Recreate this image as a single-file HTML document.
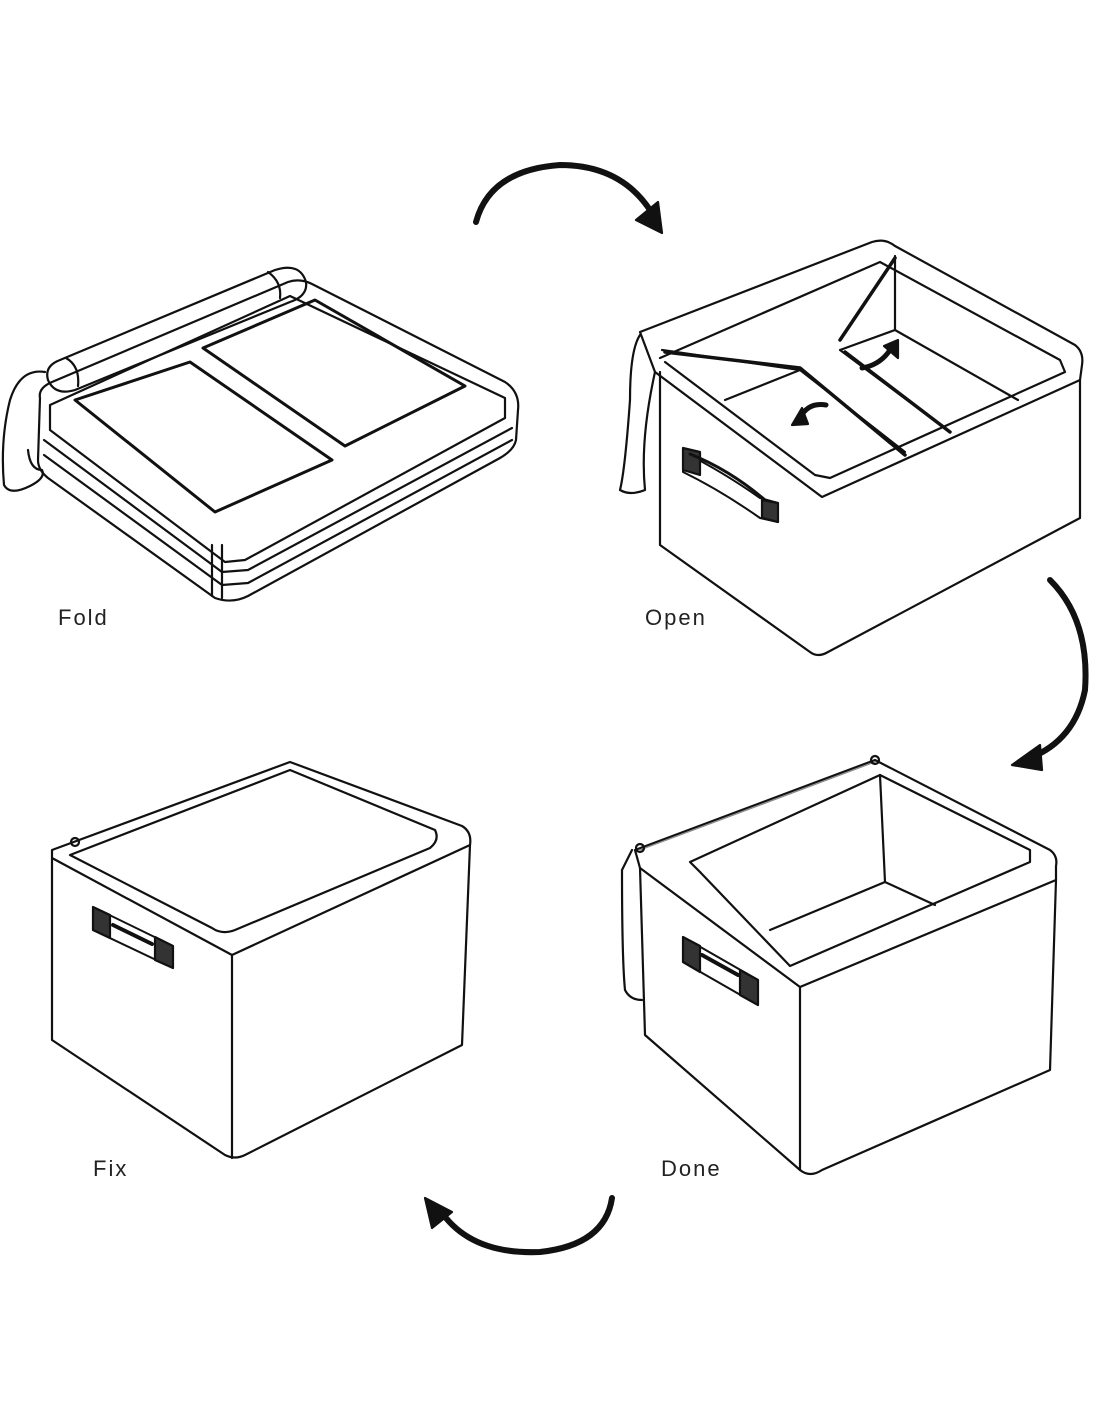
<!DOCTYPE html>
<html><head><meta charset="utf-8"><style>
html,body{margin:0;padding:0;background:#fff;}
svg{display:block}
text{font-family:"Liberation Sans",sans-serif;font-size:22px;letter-spacing:2px;fill:#222}
</style></head><body>
<svg width="1100" height="1422" viewBox="0 0 1100 1422" xmlns="http://www.w3.org/2000/svg">
<g fill="none" stroke="#111" stroke-width="2.2" stroke-linejoin="round" stroke-linecap="round">
<!-- FOLD -->
<path d="M40,398 Q38,388 52,382 L288,282 Q300,278 312,284 L505,382 Q520,392 518,410 L516,440 Q514,450 500,458 L248,596 Q232,604 215,598 L48,478 Q38,470 38,460 Z"/>
<path d="M50,405 L290,296 L505,398 L505,418 L245,560 L225,562 L50,430 Z"/>
<path d="M44,440 L222,572 L248,570 L512,428"/>
<path d="M44,455 L222,585 L248,583 L512,440"/>
<path d="M222,545 L222,598 M212,545 L212,596"/>
<path d="M75,400 L190,362 L332,460 L215,512 Z" stroke-width="3"/>
<path d="M203,348 L315,300 L465,386 L345,446 Z" stroke-width="3"/>
<path d="M60,360 L275,270 Q300,262 306,282 Q308,296 290,302 L75,390 Q55,396 48,380 Q44,366 60,360 Z"/>
<path d="M268,272 Q282,282 280,298"/>
<path d="M66,358 Q80,366 78,386"/>
<path d="M45,372 Q20,368 10,400 Q0,440 4,485 Q10,496 30,486 Q46,478 42,470 Q30,470 28,450"/>
<!-- OPEN -->
<path d="M640,332 L872,242 Q885,238 895,246 L1075,345 Q1084,352 1082,365 L1080,380 L822,497 L655,372 Z"/>
<path d="M660,372 L660,545 L810,652 Q818,658 828,652 L1080,518 L1080,380"/>
<path d="M660,358 L880,262 L1060,360 L1065,372 L830,478 L815,475 L665,362"/>
<path d="M895,256 L895,330 L1018,400"/>
<path d="M662,350 L800,370 L905,452 M725,400 L800,370"/>
<path d="M840,350 L950,432 M895,330 L840,350" />
<path d="M895,258 L840,340" stroke-width="3.5"/>
<path d="M665,352 L800,368 L905,455" stroke-width="3.5"/>
<path d="M845,352 L950,432" stroke-width="3.5"/>
<path d="M640,335 Q630,350 630,400 Q625,470 620,490 Q630,496 645,490 Q640,440 655,372"/>
<path d="M683,452 Q720,470 760,498 L778,503 L778,522 L760,518 Q720,490 683,472 Z" stroke-width="2"/>
<path d="M683,448 L700,452 L700,475 L683,470 Z M762,500 L778,503 L778,522 L762,518 Z" fill="#333"/>
<path d="M690,454 Q730,470 765,500" stroke-width="3"/>
<path d="M826,405 Q808,402 800,418" stroke-width="5"/>
<path d="M792,425 L802,408 L808,424 Z" fill="#111"/>
<path d="M862,368 Q880,365 890,350" stroke-width="5"/>
<path d="M898,340 L884,346 L898,358 Z" fill="#111"/>
<!-- DONE -->
<path d="M635,850 L875,760 L1050,850 Q1058,856 1056,866 L1056,880 L800,987 L640,868 Z"/>
<path d="M640,868 L645,1035 L800,1170 Q810,1178 822,1170 L1050,1070 L1056,880"/>
<path d="M800,987 L800,1170"/>
<path d="M690,862 L880,775 L1030,850 L1030,862 L790,966 L700,872 Z"/>
<path d="M880,775 L885,882 L770,930 M885,882 L935,905"/>
<path d="M640,850 L875,762" stroke="#888" stroke-width="1.2"/>
<path d="M632,850 L622,870 Q622,960 625,990 Q630,1000 642,1000"/>
<circle cx="640" cy="848" r="4"/><circle cx="875" cy="760" r="4"/>
<path d="M683,937 L758,980 L758,1005 L683,962 Z" fill="#fff" stroke-width="2"/>
<path d="M683,937 L700,946 L700,972 L683,962 Z M740,970 L758,980 L758,1005 L740,995 Z" fill="#333"/>
<path d="M702,955 L738,975" stroke-width="4"/>
<!-- FIX -->
<path d="M52,850 L290,762 L462,826 Q472,832 470,845 L232,955 L52,858 Z"/>
<path d="M70,855 L290,770 L435,830 Q440,840 430,848 L235,930 Q222,935 212,928 Z"/>
<path d="M52,858 L52,1040 L225,1155 Q235,1160 245,1155 L462,1045 L470,845"/>
<path d="M232,955 L232,1158"/>
<circle cx="75" cy="842" r="4"/>
<path d="M93,907 L173,946 L173,968 L93,930 Z" fill="#fff" stroke-width="2"/>
<path d="M93,907 L110,915 L110,938 L93,930 Z M155,937 L173,946 L173,968 L155,960 Z" fill="#333"/>
<path d="M113,925 L152,944" stroke-width="4"/>
<!-- ARROWS -->
<path d="M476,222 Q490,170 560,165 Q620,165 650,210" stroke-width="6"/>
<path d="M636,220 L662,233 L658,202 Z" fill="#111"/>
<path d="M1050,580 Q1090,620 1085,690 Q1075,740 1030,758" stroke-width="6"/>
<path d="M1040,745 L1012,765 L1042,770 Z" fill="#111"/>
<path d="M612,1198 Q605,1245 540,1252 Q470,1255 440,1210" stroke-width="6"/>
<path d="M425,1198 L432,1228 L452,1212 Z" fill="#111"/>
</g>
<text x="58" y="625">Fold</text>
<text x="645" y="625">Open</text>
<text x="93" y="1176">Fix</text>
<text x="661" y="1176">Done</text>
</svg>
</body></html>
